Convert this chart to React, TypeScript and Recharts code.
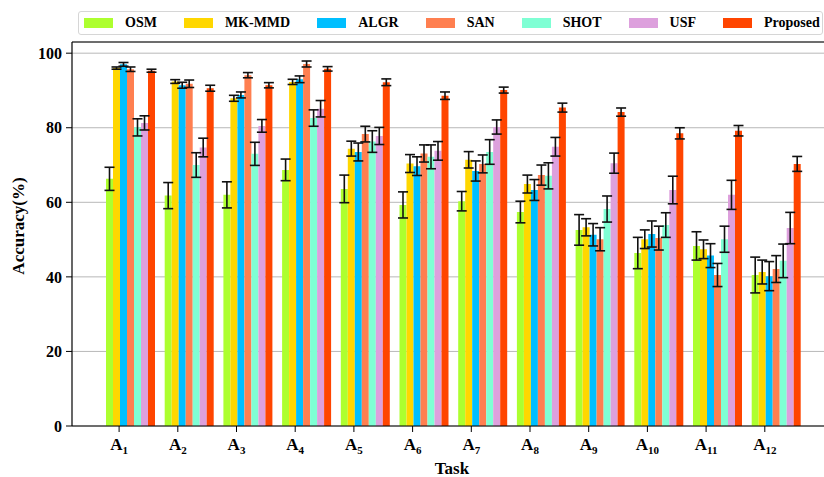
import React from 'react';
import { BarChart, Bar, XAxis, YAxis, CartesianGrid, ErrorBar, ReferenceLine, Label } from 'recharts';

const tasks = ['1', '2', '3', '4', '5', '6', '7', '8', '9', '10', '11', '12'];
const seriesNames = ['OSM', 'MK-MMD', 'ALGR', 'SAN', 'SHOT', 'USF', 'Proposed'];
const seriesKeys = ['osm', 'mkmmd', 'algr', 'san', 'shot', 'usf', 'proposed'];
const seriesColors = ['#ADFF2F', '#FFD700', '#00BFFF', '#FF7F50', '#7FFFD4', '#DDA0DD', '#FF4500'];
const yTicks = [0, 20, 40, 60, 80, 100];

const osm = [66.3, 61.8, 62.0, 68.7, 63.6, 59.3, 60.3, 57.4, 52.6, 46.4, 48.3, 40.5];
const osmErr = [3.1, 3.5, 3.5, 2.9, 3.7, 3.5, 2.6, 2.9, 4.1, 4.2, 3.8, 4.8];
const mkmmd = [96.0, 92.4, 87.9, 92.3, 74.4, 70.4, 71.4, 64.9, 53.3, 50.1, 47.4, 41.3];
const mkmmdErr = [0.3, 0.5, 0.8, 0.7, 2.0, 2.4, 2.2, 2.4, 2.3, 2.5, 2.5, 3.2];
const algr = [97.0, 91.4, 88.8, 93.0, 73.5, 69.7, 68.4, 63.3, 51.3, 51.5, 45.7, 40.2];
const algrErr = [0.5, 0.8, 0.8, 0.9, 2.4, 2.5, 2.7, 2.8, 3.0, 3.5, 3.2, 3.9];
const san = [95.7, 91.8, 94.1, 97.1, 78.3, 73.1, 70.3, 67.3, 50.1, 50.4, 40.5, 42.1];
const sanErr = [0.6, 1.0, 0.7, 0.8, 2.1, 2.3, 2.4, 2.7, 3.1, 3.2, 3.1, 3.6];
const shot = [80.1, 70.0, 73.0, 82.6, 76.3, 72.2, 73.5, 67.1, 58.2, 53.9, 50.1, 44.3];
const shotErr = [2.3, 3.3, 3.1, 2.2, 2.9, 3.2, 3.3, 3.5, 3.5, 3.3, 3.5, 4.5];
const usf = [81.3, 74.7, 80.5, 85.1, 77.8, 73.8, 80.2, 74.9, 70.5, 63.3, 62.0, 53.1];
const usfErr = [1.9, 2.5, 1.7, 2.2, 2.3, 2.5, 1.9, 2.5, 2.7, 3.7, 3.9, 4.2];
const proposed = [95.3, 90.6, 91.4, 95.8, 92.2, 88.6, 90.1, 85.4, 84.2, 78.5, 79.2, 70.3];
const proposedErr = [0.4, 0.8, 0.7, 0.6, 0.9, 1.0, 0.8, 1.2, 1.1, 1.5, 1.4, 2.0];

const values = [osm, mkmmd, algr, san, shot, usf, proposed];
const errors = [osmErr, mkmmdErr, algrErr, sanErr, shotErr, usfErr, proposedErr];

const data = tasks.map((t, i) => {
  const row: Record<string, any> = { task: t };
  seriesKeys.forEach((k, s) => {
    row[k] = values[s][i];
    row[k + 'Err'] = errors[s][i];
  });
  return row;
});

const FONT = '"Liberation Serif", "Times New Roman", serif';

const XTick = (props: any) => {
  const { x, y, payload } = props;
  const tx = x - 9.9;
  return (
    <g>
      <line x1={tx} x2={tx} y1={y} y2={y + 6} stroke="#000" strokeWidth={1} />
      <text x={tx} y={y + 24} textAnchor="middle" fontFamily={FONT} fontWeight="bold" fontSize={17} fill="#000">
        <tspan>A</tspan>
        <tspan fontSize={11} dy={4}>{payload.value}</tspan>
      </text>
    </g>
  );
};

const YLabel = (props: any) => {
  const vb = props.viewBox;
  const cx = 18;
  const cy = vb.y + vb.height / 2 - 8;
  return (
    <text x={cx} y={cy} transform={`rotate(-90 ${cx} ${cy})`} textAnchor="middle" dominantBaseline="central"
      fontFamily={FONT} fontWeight="bold" fontSize={17} fill="#000">Accuracy(%)</text>
  );
};

const XLabel = (props: any) => {
  const vb = props.viewBox;
  return (
    <text x={452} y={vb.y + 48} textAnchor="middle" fontFamily={FONT} fontWeight="bold" fontSize={17} fill="#000">Task</text>
  );
};

export default function App() {
  return (
    <div style={{ position: 'relative', width: 824, height: 477, overflow: 'hidden', background: '#fff' }}>
      <style>{'body{margin:0}'}</style>
      <BarChart width={824} height={477} data={data} margin={{ top: 42, right: 0, left: 0, bottom: 0 }}
        barCategoryGap={6.35} barGap={0}>
        <CartesianGrid vertical={false} stroke="#b8b8b8" strokeWidth={1} />
        <XAxis dataKey="task" height={51} padding={{ left: 27.65, right: 19.95 }} tickLine={false}
          tickSize={0} tickMargin={0} tick={<XTick />} axisLine={{ stroke: '#000', strokeWidth: 1.2 }} interval={0}>
          <Label content={<XLabel />} />
        </XAxis>
        <YAxis width={72} domain={[0, 103]} ticks={yTicks} tickSize={6} tickMargin={4}
          axisLine={{ stroke: '#000', strokeWidth: 1.2 }} tickLine={{ stroke: '#000' }}
          tick={{ fontSize: 16, fontWeight: 'bold', fill: '#000', fontFamily: FONT }}>
          <Label content={<YLabel />} />
        </YAxis>
        <ReferenceLine y={103} stroke="#000" strokeWidth={1.2} />
        {seriesKeys.map((k, s) => (
          <Bar key={k} dataKey={k} fill={seriesColors[s]} isAnimationActive={false}>
            <ErrorBar dataKey={k + 'Err'} width={5} stroke="#111" strokeWidth={1.6} direction="y" isAnimationActive={false} />
          </Bar>
        ))}
      </BarChart>
      <div style={{
        position: 'absolute', left: 78, top: 11, width: 745, height: 24, boxSizing: 'border-box',
        border: '1px solid #d6d6d6', borderRadius: 3, display: 'flex', alignItems: 'center',
        paddingLeft: 5, gap: 27, background: '#fff', fontFamily: FONT, fontWeight: 'bold', fontSize: 14,
      }}>
        {seriesNames.map((n, s) => (
          <div key={n} style={{ display: 'flex', alignItems: 'center' }}>
            <div style={{ width: 29, height: 9.5, background: seriesColors[s], marginRight: 12 }} />
            <span style={{ lineHeight: '14px' }}>{n}</span>
          </div>
        ))}
      </div>
    </div>
  );
}
